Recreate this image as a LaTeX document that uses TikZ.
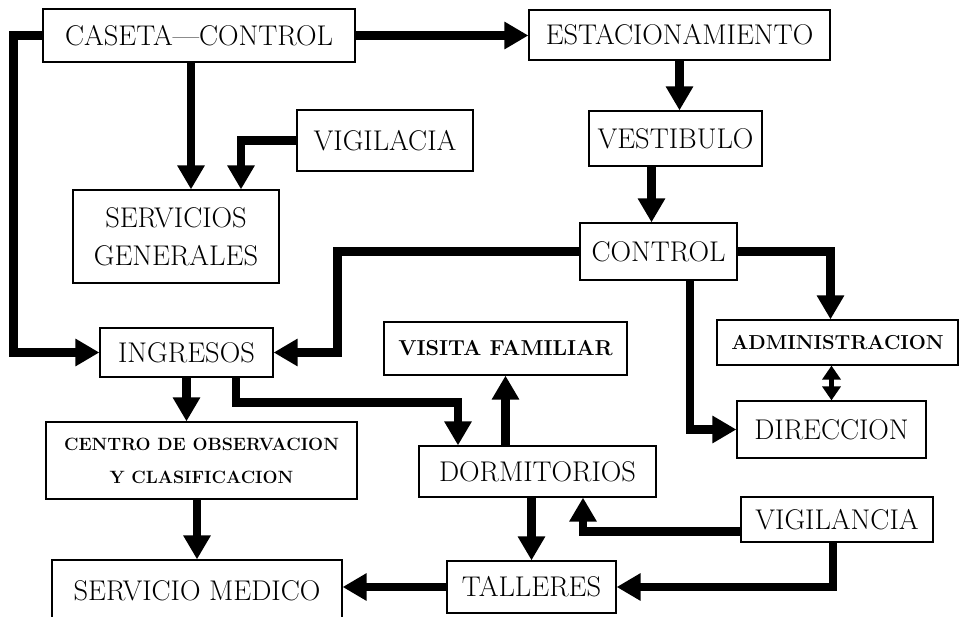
\documentclass[tikz,border=0pt]{standalone}
\usetikzlibrary{arrows.meta}
\tikzset{
 box/.style={draw, line width=1.2pt, inner sep=0pt, align=center},
 big/.style={font=\fontsize{28.5}{38}\selectfont},
 small/.style={font=\bfseries\fontsize{20.2}{24}\selectfont},
 conn/.style={line width=8.5pt, -{Triangle[length=24pt,width=26pt]}, line join=miter},
 dbl/.style={line width=5pt, {Triangle[length=14pt,width=18pt]}-{Triangle[length=14pt,width=18pt]}},
}
\begin{document}
\begin{tikzpicture}[x=1pt,y=-1pt]
\useasboundingbox (0,0) rectangle (960,617);
\clip (0,0) rectangle (960,617);
% boxes
\node[box,big,minimum width=312pt,minimum height=53pt] (caseta) at (199,35.5) {CASETA---CONTROL};
\node[box,big,minimum width=301pt,minimum height=50pt] (estac) at (679.5,35) {ESTACIONAMIENTO};
\node[box,big,minimum width=173pt,minimum height=55pt] (vestib) at (675.5,138.5) {VESTIBULO};
\node[box,big,minimum width=176pt,minimum height=61pt] (vigilacia) at (385,140.5) {VIGILACIA};
\node[box,big,minimum width=206pt,minimum height=93pt] (servicios) at (176,236.5) {SERVICIOS\\GENERALES};
\node[box,big,minimum width=157pt,minimum height=57pt] (control) at (658.5,251.5) {CONTROL};
\node[box,big,minimum width=173pt,minimum height=49pt] (ingresos) at (186.5,352.5) {INGRESOS};
\node[box,small,font=\bfseries\fontsize{21.6}{24}\selectfont,minimum width=243pt,minimum height=53pt] (visita) at (505.5,348.5) {VISITA FAMILIAR};
\node[box,small,minimum width=241pt,minimum height=45pt] (admin) at (837.5,342.5) {ADMINISTRACION};
\node[box,big,minimum width=189pt,minimum height=57pt] (direccion) at (831.5,429.5) {DIRECCION};
\node[box,font=\bfseries\fontsize{17.8}{33}\selectfont,minimum width=311pt,minimum height=77pt] (centro) at (201.5,460.5) {CENTRO DE OBSERVACION\\Y CLASIFICACION};
\node[box,big,minimum width=237pt,minimum height=51pt] (dormit) at (537.5,471.5) {DORMITORIOS};
\node[box,big,minimum width=192pt,minimum height=45pt] (vigilancia) at (837,519.5) {VIGILANCIA};
\node[box,big,minimum width=290pt,minimum height=70pt] (medico) at (197,595) {\raisebox{8pt}{SERVICIO MEDICO}};
\node[box,big,minimum width=169pt,minimum height=52pt] (talleres) at (531.5,587) {TALLERES};
% connectors
\draw[conn] (caseta.west) -- ++(-29,0) |- (ingresos.west);
\draw[conn] (caseta.east) -- (caseta.east -| estac.west);
\draw[conn] ([xshift=15pt]servicios.north |- caseta.south) -- ([xshift=15pt]servicios.north);
\draw[conn] (vigilacia.west) -| ([xshift=65pt]servicios.north);
\draw[conn] (estac.south) -- (estac.south |- vestib.north);
\draw[conn] ([xshift=-24pt]vestib.south) -- ([xshift=-24pt]vestib.south |- control.north);
\draw[conn] (control.west) -- ++(-242,0) |- (ingresos.east);
\draw[conn] (control.east) -| ([xshift=-7pt]admin.north);
\draw[conn] ([xshift=31.5pt]control.south) |- (direccion.west);
\draw[dbl] (admin.south -| direccion.north) -- (direccion.north);
\draw[conn] (ingresos.south) -- (ingresos.south |- centro.north);
\draw[conn] ([xshift=49.5pt]ingresos.south) -- ++(0,25) -| ([xshift=-79.5pt]dormit.north);
\draw[conn] (visita.south |- dormit.north) -- (visita.south);
\draw[conn] (talleres.north |- dormit.south) -- (talleres.north);
\draw[conn] ([yshift=-12pt]vigilancia.west) -| ([xshift=45.5pt]dormit.south);
\draw[conn] ([xshift=-4pt]vigilancia.south) |- (talleres.east);
\draw[conn] (talleres.west) -- (talleres.west -| medico.east);
\draw[conn] (medico.north |- centro.south) -- (medico.north);
\end{tikzpicture}
\end{document}
